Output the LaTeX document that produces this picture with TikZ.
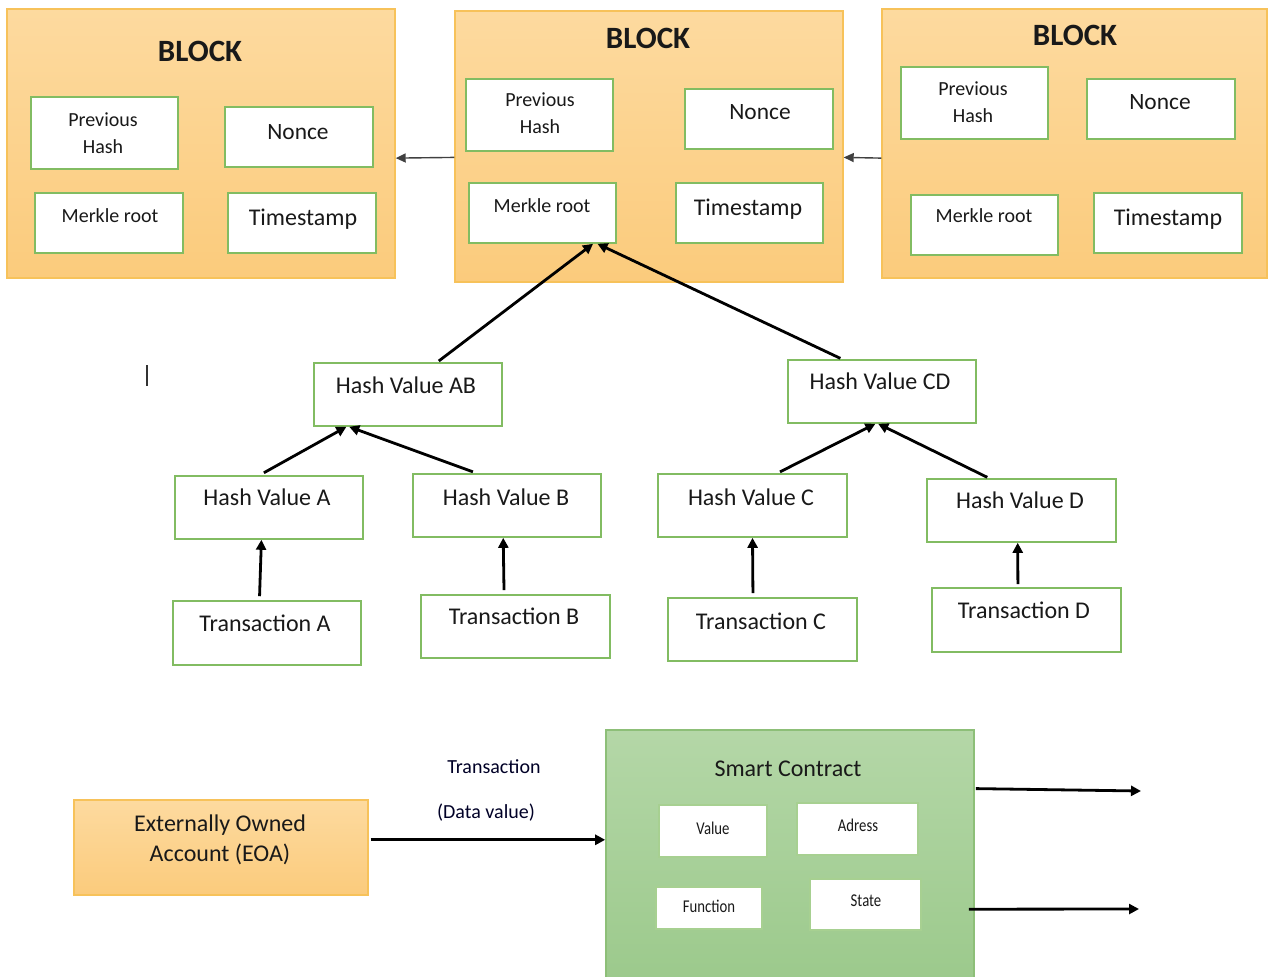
\documentclass[tikz,border=0pt]{standalone}
\usepackage{fontspec}
\setmainfont{Carlito}
\usetikzlibrary{arrows.meta,fit,calc}
\definecolor{orfillA}{HTML}{FDDA9F}
\definecolor{orfillB}{HTML}{FBCB7C}
\definecolor{orline}{HTML}{F7C25A}
\definecolor{gbox}{HTML}{82BC62}
\definecolor{scfillA}{HTML}{B4D7A7}
\definecolor{scfillB}{HTML}{9BC98B}
\definecolor{scline}{HTML}{8DBF78}
\begin{document}
\begin{tikzpicture}[x=0.5pt,y=-0.5pt,
  blockbox/.style={draw=orline, line width=0.7pt, top color=orfillA, bottom color=orfillB, inner sep=0pt},
  scbox/.style={draw=scline, line width=0.8pt, top color=scfillA, bottom color=scfillB, inner sep=0pt},
  cell/.style={draw=gbox, line width=0.8pt, fill=white, inner sep=0pt},
  txt/.style={inner sep=0pt, text height=0.64em, text depth=0pt, text=black!90, yshift=-1pt},
  mtxt/.style={inner sep=0pt, align=center, text=black!90, yshift=-1pt},
  title/.style={txt, font=\fontsize{15.5}{18}\selectfont\bfseries, yshift=-1pt},
  prevfont/.style={mtxt, font=\fontsize{10}{13.5}\selectfont},
  midfont/.style={txt, font=\fontsize{11.7}{14}\selectfont},
  smallfont/.style={txt, font=\fontsize{10}{12}\selectfont},
  bigfont/.style={txt, font=\fontsize{12}{14}\selectfont},
  tinyfont/.style={txt, font=\fontsize{9}{11}\selectfont, xscale=0.82},
  link/.style={-{Triangle[length=5pt,width=5pt]}, line width=1.4pt, black},
  chain/.style={-{Triangle[length=5pt,width=4.5pt]}, line width=0.7pt, black!75},
]
\useasboundingbox (0,0) rectangle (1268,976);
\clip (0,0) rectangle (1268,976);

% ---------- Block 1 ----------
\node[blockbox, fit={(7,9)(395,278)}] (b1) {};
\node[title] (b1t) at (200,51) {BLOCK};
\node[cell, fit={(31,97)(178,169)}] (ph1) {};
\node[prevfont] (ph1t) at (103,131) {Previous\\Hash};
\node[cell, fit={(225,107)(373,167)}] (no1) {};
\node[midfont] (no1t) at (298,131) {Nonce};
\node[cell, fit={(35,193)(183,253)}] (mr1) {};
\node[smallfont] (mr1t) at (110,214) {Merkle root};
\node[cell, fit={(228,193)(376,253)}] (ts1) {};
\node[bigfont] (ts1t) at (303,217) {Timestamp};

% ---------- Block 2 ----------
\node[blockbox, fit={(455,11)(843,282)}] (b2) {};
\node[title] (b2t) at (648,38) {BLOCK};
\node[cell, fit={(466,79)(613,151)}] (ph2) {};
\node[prevfont] (ph2t) at (540,111.5) {Previous\\Hash};
\node[cell, fit={(685,89)(833,149)}] (no2) {};
\node[midfont] (no2t) at (760,111) {Nonce};
\node[cell, fit={(469,183)(616,243)}] (mr2) {};
\node[smallfont] (mr2t) at (542,204) {Merkle root};
\node[cell, fit={(676,183)(823,243)}] (ts2) {};
\node[bigfont] (ts2t) at (748,207) {Timestamp};

% ---------- Block 3 ----------
\node[blockbox, fit={(882,9)(1267,278)}] (b3) {};
\node[title] (b3t) at (1075,35) {BLOCK};
\node[cell, fit={(901,67)(1048,139)}] (ph3) {};
\node[prevfont] (ph3t) at (973,100) {Previous\\Hash};
\node[cell, fit={(1087,79)(1235,139)}] (no3) {};
\node[midfont] (no3t) at (1160,101) {Nonce};
\node[cell, fit={(911,195)(1058,255)}] (mr3) {};
\node[smallfont] (mr3t) at (984,214) {Merkle root};
\node[cell, fit={(1094,193)(1242,253)}] (ts3) {};
\node[bigfont] (ts3t) at (1168,217) {Timestamp};

% chain arrows
\draw[chain] ($(b2.north west)!0.54!(b2.south west)$) -- ($(b1.north east)!0.554!(b1.south east)$);
\draw[chain] ($(b3.north west)!0.554!(b3.south west)$) -- ($(b2.north east)!0.54!(b2.south east)$);

% ---------- Merkle tree ----------
\node[cell, fit={(314,363)(502,426)}] (hAB) {};
\node[bigfont] (hABt) at (406,385) {Hash Value AB};
\node[cell, fit={(788,360)(976,423)}] (hCD) {};
\node[bigfont] (hCDt) at (880,381) {Hash Value CD};

\node[cell, fit={(175,476)(363,539)}] (hA) {};
\node[bigfont] (hAt) at (267,497) {Hash Value A};
\node[cell, fit={(413,474)(601,537)}] (hB) {};
\node[bigfont] (hBt) at (506,497) {Hash Value B};
\node[cell, fit={(658,474)(847,537)}] (hC) {};
\node[bigfont] (hCt) at (751,497) {Hash Value C};
\node[cell, fit={(927,479)(1116,542)}] (hD) {};
\node[bigfont] (hDt) at (1020,500) {Hash Value D};

\node[cell, fit={(173,601)(361,665)}] (tA) {};
\node[bigfont] (tAt) at (265,623) {Transaction A};
\node[cell, fit={(421,595)(610,658)}] (tB) {};
\node[bigfont] (tBt) at (514,616) {Transaction B};
\node[cell, fit={(668,598)(857,661)}] (tC) {};
\node[bigfont] (tCt) at (761,621) {Transaction C};
\node[cell, fit={(932,588)(1121,652)}] (tD) {};
\node[bigfont] (tDt) at (1024,610) {Transaction D};

\draw[link, shorten <=1pt] ($(hAB.north west)!0.654!(hAB.north east)$) -- ($(mr2.south west)!0.84!(mr2.south east)$);
\draw[link, shorten <=1pt] ($(hCD.north west)!0.29!(hCD.north east)$) -- ($(mr2.south west)!0.87!(mr2.south east)$);
\draw[link, shorten <=2.5pt] ($(hA.north west)!0.45!(hA.north east)$) -- ($(hAB.south west)!0.175!(hAB.south east)$);
\draw[link, shorten <=2pt] ($(hB.north west)!0.34!(hB.north east)$) -- ($(hAB.south west)!0.19!(hAB.south east)$);
\draw[link, shorten <=1.5pt] ($(hC.north west)!0.63!(hC.north east)$) -- ($(hCD.south west)!0.465!(hCD.south east)$);
\draw[link, shorten <=1pt] ($(hD.north west)!0.33!(hD.north east)$) -- ($(hCD.south west)!0.48!(hCD.south east)$);
\draw[link, shorten <=2pt] ($(tA.north west)!0.46!(tA.north east)$) -- ($(hA.south west)!0.46!(hA.south east)$);
\draw[link, shorten <=2pt] ($(tB.north west)!0.44!(tB.north east)$) -- ($(hB.south west)!0.48!(hB.south east)$);
\draw[link, shorten <=2pt] ($(tC.north west)!0.45!(tC.north east)$) -- ($(hC.south west)!0.5!(hC.south east)$);
\draw[link, shorten <=1.5pt] ($(tD.north west)!0.455!(tD.north east)$) -- ($(hD.south west)!0.48!(hD.south east)$);

% text cursor mark
\draw[line width=0.6pt, black!80] (147,365) -- (147,386);

% ---------- Smart contract ----------
\node[blockbox, fit={(74,800)(368,895)}] (eoa) {};
\node[mtxt, font=\fontsize{12}{15}\selectfont] (eoat) at (220,838) {Externally Owned\\Account (EOA)};

\node[scbox, fit={(606,730)(974,990)}] (sc) {};
\node[bigfont] (sct) at (788,768) {Smart Contract};
\node[cell, line width=0.6pt, draw=gbox!70, fit={(659,805)(767,857)}] (val) {};
\node[tinyfont] (valt) at (713,826) {Value};
\node[cell, line width=0.6pt, draw=gbox!70, fit={(797,803)(918,855)}] (adr) {};
\node[tinyfont] (adrt) at (858,823) {Adress};
\node[cell, line width=0.6pt, draw=gbox!70, fit={(656,887)(762,929)}] (fun) {};
\node[tinyfont] (funt) at (709,904) {Function};
\node[cell, line width=0.6pt, draw=gbox!70, fit={(810,879)(921,930)}] (sta) {};
\node[tinyfont] (stat) at (866,898) {State};

\node[smallfont, text=black!85!blue] (trl) at (494,765) {Transaction};
\node[smallfont, text=black!85!blue] (dvl) at (486,810) {(Data value)};

\coordinate (e1) at ($(eoa.north east)!0.42!(eoa.south east)+(2,0)$);
\draw[link] (e1) -- (e1 -| sc.west);

\coordinate (out1) at (1141,791);
\coordinate (out2) at (1139,909);
\draw[link] ($(sc.north east)!0.227!(sc.south east)+(1,0)$) -- (out1);
\draw[link] ($(sc.north east)!0.688!(sc.south east)+(-6,0)$) -- (out2);
\end{tikzpicture}
\end{document}
